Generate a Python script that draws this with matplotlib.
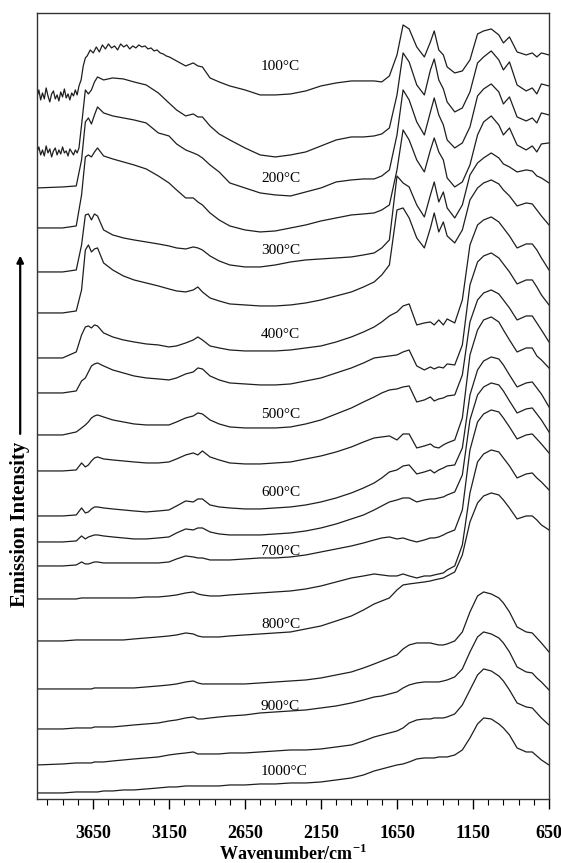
import matplotlib.pyplot as plt
from matplotlib.ticker import FixedLocator
from matplotlib.patches import FancyArrowPatch

plt.rcParams['font.family'] = ['Liberation Serif', 'DejaVu Serif']
plt.rcParams['mathtext.fontset'] = 'custom'
plt.rcParams['mathtext.rm'] = 'Liberation Serif'
plt.rcParams['mathtext.bf'] = 'Liberation Serif:bold'

# common wavenumber grid (cm-1) the traces were read at
wavenumber = [4018, 3850, 3760, 3725, 3700, 3680, 3660, 3640, 3620, 3580,
              3520, 3450, 3380, 3300, 3220, 3150, 3100, 3040, 2990, 2960,
              2930, 2880, 2820, 2750, 2650, 2550, 2450, 2350, 2250, 2150,
              2050, 1950, 1870, 1800, 1750, 1700, 1650, 1610, 1570, 1520,
              1470, 1430, 1405, 1375, 1345, 1320, 1270, 1220, 1170, 1120,
              1080, 1030, 980, 950, 910, 860, 800, 760, 730, 700, 650]

# noisy start of the 100 and 150 C traces (denser sampling)
wn_noise = [4018, 4006, 3994, 3982, 3970, 3958, 3946, 3934, 3922, 3910, 3898, 3886,
            3874, 3862, 3850, 3838, 3826, 3814, 3802, 3790, 3778, 3766, 3754, 3742]
wn_rise_100 = [3728, 3714, 3700]
wn_plateau_100 = [3688, 3668, 3648, 3628, 3608, 3588, 3568, 3548, 3528, 3508,
                  3488, 3468, 3448, 3428, 3408, 3388, 3368, 3348, 3328, 3308,
                  3288, 3268, 3248, 3228, 3208, 3188, 3168, 3148]

noise_100 = [703, 710, 700, 707, 701, 712, 704, 698, 706, 709, 701, 705,
             699, 708, 703, 711, 702, 706, 700, 707, 704, 710, 705, 714]
rise_100 = [720, 734, 742]
plateau_100 = [744, 750, 747, 753, 748, 755, 751, 756, 752, 754, 750, 756, 753, 755,
               751, 754, 752, 755, 753, 754, 751, 752, 749, 750, 747, 746, 744, 743]
noise_150 = [648, 653, 645, 650, 644, 654, 647, 651, 643, 649, 652, 645,
             650, 646, 653, 647, 649, 644, 651, 648, 645, 650, 647, 652]

# stacked emission traces (offset intensity) on the grid
spec_100 = [734, 737, 734, 733, 722, 718, 714, 710, 705, 705, 706, 709, 714, 717, 719,
            719, 719, 718, 724, 745, 775, 771, 753, 743, 758, 769, 750, 745, 733, 727,
            729, 740, 766, 769, 771, 765, 757, 763, 748, 745, 747, 743, 747, 745]   # from 3040
spec_150 = [675, 710, 706, 710, 718, 723, 720, 722, 721, 718, 715, 707, 697, 690, 684,
            686, 683, 683, 674, 666, 660, 652, 645, 643, 645, 648, 654, 660, 663, 663,
            664, 666, 672, 705, 747, 738, 715, 705, 730, 741, 720, 711, 698, 688, 692,
            708, 737, 743, 749, 740, 730, 738, 715, 709, 712, 706, 716, 714]        # from 3725
spec_200 = [612, 613, 614, 640, 678, 682, 676, 685, 693, 687, 684, 682, 680, 677, 667,
            664, 656, 650, 647, 645, 642, 635, 628, 617, 612, 607, 605, 604, 608, 612,
            618, 620, 621, 621, 624, 630, 665, 710, 700, 678, 665, 688, 702, 685, 675,
            660, 652, 657, 673, 704, 711, 716, 708, 696, 703, 683, 679, 682, 677, 687, 685]
spec_250 = [572, 572, 574, 605, 643, 645, 643, 648, 652, 644, 641, 638, 635, 631, 624,
            617, 610, 602, 602, 598, 595, 587, 580, 574, 570, 568, 569, 572, 575, 579,
            582, 585, 586, 587, 590, 595, 630, 670, 660, 640, 628, 650, 662, 648, 640,
            622, 613, 618, 635, 665, 678, 684, 675, 665, 672, 655, 650, 654, 648, 656, 657]
spec_300 = [528, 528, 530, 555, 585, 586, 580, 586, 584, 570, 565, 562, 560, 558, 556,
            554, 552, 551, 553, 552, 550, 544, 539, 535, 533, 533, 535, 538, 540, 541,
            542, 543, 545, 547, 552, 560, 624, 617, 613, 595, 583, 605, 618, 598, 608,
            592, 582, 595, 625, 637, 642, 647, 642, 636, 633, 628, 630, 629, 624, 622, 617]
spec_350 = [487, 487, 489, 510, 550, 555, 548, 551, 552, 537, 530, 524, 520, 517, 514,
            511, 509, 508, 510, 513, 508, 502, 499, 496, 495, 494, 494, 495, 497, 500,
            504, 508, 513, 518, 525, 535, 590, 592, 582, 562, 552, 572, 587, 568, 578,
            564, 557, 570, 600, 612, 617, 620, 616, 610, 604, 594, 597, 596, 590, 584, 575]
spec_400 = [442, 442, 448, 465, 473, 474, 472, 475, 474, 467, 463, 460, 458, 456, 455,
            453, 454, 457, 460, 463, 460, 454, 452, 450, 449, 449, 449, 450, 452, 454,
            458, 463, 468, 473, 478, 484, 488, 494, 496, 475, 477, 478, 475, 480, 475,
            481, 477, 500, 555, 575, 580, 583, 578, 572, 564, 552, 556, 556, 550, 542, 530]
spec_450 = [407, 407, 409, 419, 422, 428, 434, 436, 437, 434, 430, 427, 424, 422, 421,
            420, 422, 426, 428, 432, 431, 424, 420, 417, 416, 415, 415, 416, 419, 422,
            427, 432, 437, 442, 443, 444, 445, 448, 450, 434, 430, 433, 431, 433, 432,
            436, 435, 455, 515, 538, 544, 547, 542, 536, 528, 516, 520, 520, 513, 505, 495]
spec_500 = [365, 365, 368, 372, 375, 378, 382, 384, 385, 383, 380, 378, 376, 375, 375,
            375, 378, 382, 384, 387, 386, 380, 376, 373, 372, 372, 372, 373, 376, 380,
            386, 392, 398, 403, 407, 410, 411, 413, 414, 398, 400, 403, 399, 401, 402,
            404, 405, 425, 478, 500, 507, 510, 506, 500, 492, 480, 484, 484, 477, 470, 458]
spec_550 = [329, 329, 330, 337, 333, 335, 339, 342, 343, 341, 340, 339, 338, 337, 337,
            338, 341, 345, 347, 345, 349, 343, 340, 337, 336, 336, 337, 338, 341, 344,
            348, 353, 358, 362, 363, 364, 360, 366, 366, 352, 354, 356, 353, 352, 355,
            357, 360, 382, 445, 470, 480, 483, 478, 470, 460, 448, 452, 452, 444, 440, 432]
spec_600 = [284, 284, 285, 292, 287, 288, 291, 293, 293, 292, 291, 290, 289, 288, 289,
            290, 294, 299, 298, 301, 301, 295, 293, 292, 291, 291, 292, 293, 295, 298,
            302, 307, 312, 317, 322, 328, 330, 334, 335, 326, 328, 330, 327, 330, 332,
            334, 335, 352, 405, 430, 439, 443, 441, 435, 425, 413, 417, 418, 412, 406, 393]
spec_650 = [258, 258, 259, 264, 261, 263, 264, 265, 265, 264, 263, 262, 261, 261, 262,
            263, 267, 271, 270, 272, 272, 268, 266, 265, 265, 265, 266, 267, 269, 272,
            276, 281, 285, 290, 294, 298, 300, 302, 302, 298, 300, 301, 301, 302, 303,
            305, 308, 325, 380, 405, 413, 417, 415, 409, 399, 387, 391, 392, 386, 380, 368]
spec_700 = [234, 234, 235, 238, 236, 236, 237, 238, 238, 237, 237, 237, 237, 237, 237,
            238, 241, 244, 243, 242, 242, 240, 240, 240, 241, 242, 242, 243, 245, 248,
            251, 254, 257, 260, 262, 263, 261, 262, 260, 258, 260, 262, 262, 263, 265,
            267, 270, 290, 350, 378, 386, 390, 388, 382, 373, 361, 365, 366, 361, 356, 347]
spec_750 = [201, 201, 201, 202, 202, 202, 202, 202, 202, 202, 202, 202, 202, 203, 203,
            204, 205, 207, 208, 206, 205, 204, 204, 205, 206, 207, 208, 209, 211, 214,
            218, 222, 224, 226, 225, 224, 224, 226, 224, 222, 224, 224, 225, 226, 227,
            230, 234, 255, 307, 338, 346, 350, 348, 342, 334, 322, 326, 327, 322, 318, 310]
spec_800 = [159, 159, 160, 160, 160, 160, 160, 160, 160, 160, 160, 160, 161, 162, 163,
            164, 165, 167, 166, 164, 163, 163, 163, 164, 165, 166, 167, 168, 171, 174,
            179, 184, 190, 196, 199, 202, 210, 215, 216, 217, 218, 219, 220, 221, 222,
            224, 228, 245, 278, 297, 304, 307, 305, 300, 292, 281, 284, 284, 280, 275, 270]
spec_850 = [111, 111, 111, 111, 111, 111, 111, 112, 112, 112, 112, 112, 112, 113, 114,
            115, 116, 118, 119, 117, 116, 116, 116, 116, 116, 117, 118, 119, 120, 122,
            125, 128, 132, 136, 139, 142, 145, 151, 155, 157, 157, 157, 156, 155, 155,
            156, 159, 168, 188, 204, 208, 206, 202, 197, 188, 173, 168, 167, 162, 157, 148]
spec_900 = [71, 71, 72, 72, 72, 72, 72, 73, 73, 73, 73, 74, 75, 76, 77,
            79, 80, 82, 83, 81, 81, 82, 83, 84, 85, 87, 88, 89, 90, 92,
            94, 97, 100, 103, 104, 106, 108, 112, 115, 117, 118, 118, 118, 118, 119,
            120, 123, 131, 148, 163, 168, 166, 162, 157, 148, 133, 128, 127, 122, 118, 110]
spec_950 = [35, 36, 37, 37, 37, 37, 37, 38, 38, 38, 39, 40, 41, 42, 43,
            45, 46, 47, 48, 46, 46, 46, 46, 47, 47, 48, 49, 50, 50, 51,
            53, 55, 59, 63, 65, 67, 69, 72, 77, 80, 81, 81, 82, 82, 82,
            83, 86, 95, 110, 125, 131, 129, 124, 119, 110, 97, 93, 92, 87, 82, 75]
spec_1000 = [7, 7, 8, 8, 8, 8, 8, 8, 8, 9, 9, 10, 10, 11, 12,
             13, 13, 14, 14, 14, 14, 14, 14, 15, 15, 16, 16, 17, 17, 18,
             20, 22, 25, 29, 31, 33, 35, 36, 38, 41, 42, 42, 42, 43, 43,
             43, 45, 50, 62, 76, 82, 81, 76, 72, 65, 52, 48, 48, 44, 40, 35]

label_temps = [100, 200, 300, 400, 500, 600, 700, 800, 900, 1000]
label_height = [733, 621, 549, 465, 385, 307, 248, 175, 93, 28]

major_ticks = [3650, 3150, 2650, 2150, 1650, 1150, 650]
minor_ticks = [t for t in range(750, 4000, 100) if t not in major_ticks]

# the two noisy traces are stitched from their dense parts and the grid
x_100 = wn_noise + wn_rise_100 + wn_plateau_100 + wavenumber[17:]
y_100 = noise_100 + rise_100 + plateau_100 + spec_100
x_150 = wn_noise + wavenumber[3:]
y_150 = noise_150 + spec_150

traces = [(x_100, y_100), (x_150, y_150)]
for s in [spec_200, spec_250, spec_300, spec_350, spec_400, spec_450, spec_500,
          spec_550, spec_600, spec_650, spec_700, spec_750, spec_800, spec_850,
          spec_900, spec_950, spec_1000]:
    traces.append((wavenumber, s))

fig = plt.figure(figsize=(5.61, 8.63), dpi=100)
ax = fig.add_axes([0.066, 0.0742, 0.9126, 0.9108])

for x, y in traces:
    ax.plot(x, y, color='#1e1e1e', lw=0.9)

for t, h in zip(label_temps, label_height):
    ax.text(2545, h, f'{t}\u00b0C', ha='left', va='center', fontsize=11)

ax.set_xlim(4018, 650)
ax.set_ylim(1, 787)
ax.xaxis.set_major_locator(FixedLocator(major_ticks))
ax.xaxis.set_minor_locator(FixedLocator(minor_ticks))
ax.set_yticks([])
ax.tick_params(axis='x', which='major', direction='out', length=7, width=1, pad=12,
               labelsize=13)
ax.tick_params(axis='x', which='minor', direction='out', length=4, width=0.8)
for lab in ax.get_xticklabels():
    lab.set_fontweight('bold')
for sp in ax.spines.values():
    sp.set_color('#333333')
    sp.set_linewidth(1.0)

fig.text(0.522, 0.011, r'Wavenumber/cm$^{\mathbf{-1}}$', ha='center', va='center',
         fontsize=13, fontweight='bold')
fig.text(0.036, 0.392, 'Emission Intensity', rotation=90, ha='center', va='center',
         fontsize=15, fontweight='bold')
arrow = FancyArrowPatch((0.036, 0.494), (0.036, 0.707), transform=fig.transFigure,
                        arrowstyle='-|>', mutation_scale=10, lw=1.6, color='black')
fig.patches.append(arrow)

fig.savefig('out.png', dpi=100)
